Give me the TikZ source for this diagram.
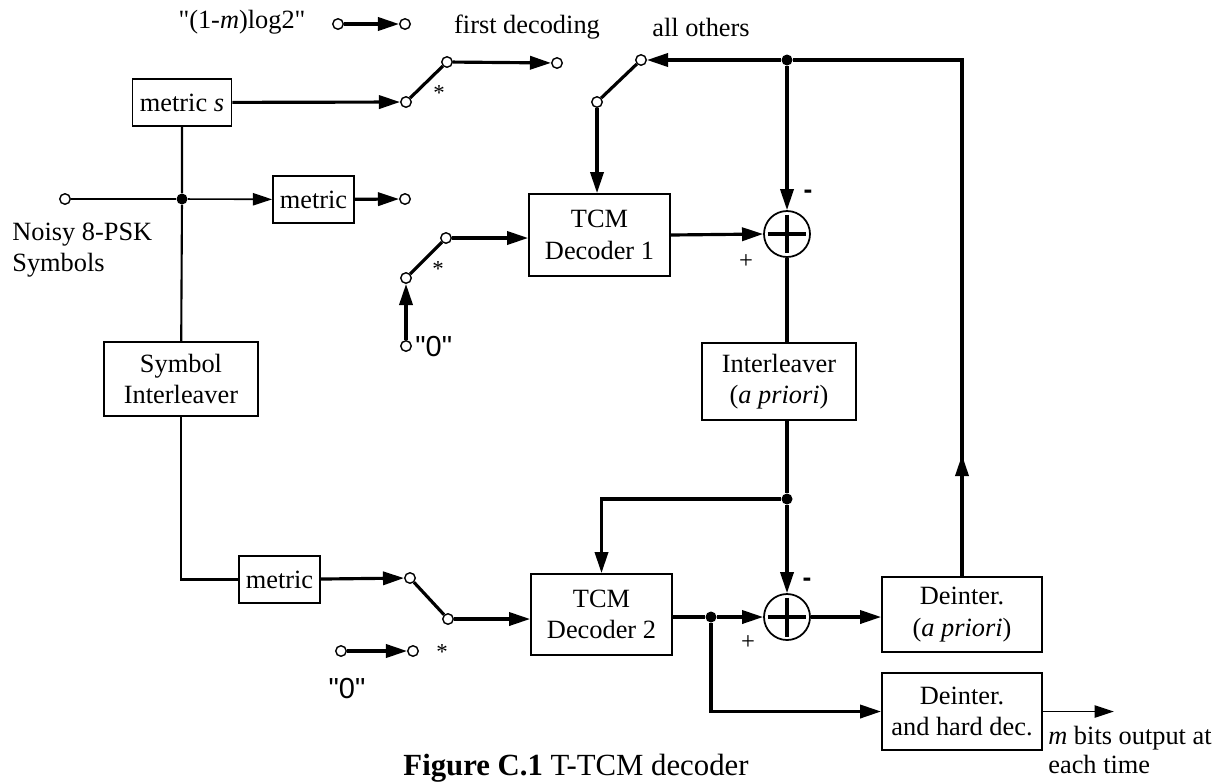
\documentclass[tikz,border=0pt]{standalone}
\usepackage{fontspec}
\setmainfont{Liberation Serif}
\newfontfamily\zerofont{Liberation Sans}
\usetikzlibrary{arrows.meta,positioning}

\begin{document}
\begin{tikzpicture}[
  font=\fontsize{15}{18}\selectfont,
  block/.style={draw,rectangle,line width=1pt,minimum width=1.62cm,
                minimum height=0.94cm,align=center,inner sep=1pt},
  port/.style={draw,circle,line width=0.8pt,fill=white,minimum size=0.21cm,
               inner sep=0pt},
  dot/.style={fill,circle,minimum size=0.22cm,inner sep=0pt},
  adder/.style={draw,circle,line width=1pt,minimum size=0.92cm,inner sep=0pt,
    path picture={
      \draw[line width=2.4pt]
        ([xshift=2pt]path picture bounding box.west) --
        ([xshift=-2pt]path picture bounding box.east)
        ([yshift=-2pt]path picture bounding box.north) --
        ([yshift=2pt]path picture bounding box.south);}},
  wire/.style={line width=1.8pt},
  medwire/.style={line width=1.2pt},
  thinwire/.style={line width=0.9pt},
  arr/.style={wire,-{Triangle[length=12pt,width=7.5pt]}},
  thinarr/.style={thinwire,-{Triangle[length=11pt,width=7pt]}},
  sign/.style={font=\zerofont\bfseries\fontsize{15}{17}\selectfont}
]
\useasboundingbox (0,0) rectangle (24.6,-15.66);
% Metric blocks
\node[block,minimum width=1.98cm] (ms) at (3.64,-2.05) {metric \textit{s}};
\node[block] (mt) at (6.27,-3.99) {metric};
\node[block] (mb) at (5.59,-11.59) {metric};
% Symbol interleaver
\node[block,minimum width=3.08cm,minimum height=1.48cm] (sym) at (3.62,-7.58)
  {Symbol\\Interleaver};
% Decoders
\node[block,minimum width=2.82cm,minimum height=1.64cm] (tcm1) at (11.99,-4.70)
  {TCM\\Decoder 1};
\node[block,minimum width=2.82cm,minimum height=1.62cm] (tcm2) at (12.03,-12.29)
  {TCM\\Decoder 2};
% Adders
\node[adder] (sum1) at (15.74,-4.68) {};
\node[adder] (sum2) at (15.74,-12.34) {};
% Interleaver / deinterleavers
\node[block,minimum width=3.08cm,minimum height=1.54cm] (intl) at (15.58,-7.63)
  {Interleaver\\(\textit{a priori})};
\node[block,minimum width=3.2cm,minimum height=1.5cm] (dap) at (19.24,-12.29)
  {Deinter.\\(\textit{a priori})};
\node[block,minimum width=3.2cm,minimum height=1.54cm] (deh) at (19.24,-14.23)
  {Deinter.\\and hard dec.};
% Switch contacts
\node[port] (lg1) at (6.76,-0.48) {};
\node[port] (lg2) at (8.10,-0.48) {};
\node[port] (s1a) at (8.12,-2.04) {};
\node[port] (s1b) at (8.94,-1.24) {};
\node[port] (fd) at (11.14,-1.26) {};
\node[port] (s2a) at (11.94,-2.04) {};
\node[port] (s2b) at (12.82,-1.20) {};
\node[port] (in) at (1.30,-3.98) {};
\node[port] (mto) at (8.10,-3.98) {};
\node[port] (s3a) at (8.12,-5.56) {};
\node[port] (s3b) at (8.92,-4.76) {};
\node[port] (z1) at (8.12,-6.92) {};
\node[port] (s4a) at (8.20,-11.56) {};
\node[port] (s4b) at (8.96,-12.38) {};
\node[port] (z2a) at (6.82,-13.02) {};
\node[port] (z2b) at (8.26,-13.02) {};
% Junctions
\node[dot] (j0) at (3.64,-3.98) {};
\node[dot] (j1) at (15.74,-1.20) {};
\node[dot] (j2) at (15.74,-9.98) {};
\node[dot] (j3) at (14.22,-12.34) {};
\coordinate (up) at (19.24,-9.1);
% Texts
\node (lgtxt) at (4.84,-0.44) {\textquotedbl(1-\textit{m})log2\textquotedbl};
\node (fdtxt) at (10.54,-0.54) {first decoding};
\node (aotxt) at (14.02,-0.54) {all others};
\node[align=left,anchor=west,inner sep=0pt] (noisy) at (0.24,-5.0)
  {Noisy 8-PSK\\Symbols};
\node[anchor=west,inner sep=0pt,font=\zerofont\fontsize{16.5}{18}\selectfont]
  (z1txt) at (8.30,-6.94) {\textquotedbl0\textquotedbl};
\node[font=\zerofont\fontsize{16.5}{18}\selectfont] (z2txt) at (6.94,-13.76)
  {\textquotedbl0\textquotedbl};
\node[font=\fontsize{13}{15}\selectfont] at (8.78,-1.86) {*};
\node[font=\fontsize{13}{15}\selectfont] at (8.76,-5.38) {*};
\node[font=\fontsize{13}{15}\selectfont] at (8.84,-13.04) {*};
\node[font=\fontsize{14}{16}\selectfont] at (14.92,-5.24) {+};
\node[font=\fontsize{14}{16}\selectfont] at (14.96,-12.86) {+};
\node[sign] at (16.16,-3.88) {-};
\node[sign] at (16.14,-11.64) {-};
\node[align=left,anchor=north west,inner sep=0pt,
      font=\fontsize{15}{16.5}\selectfont] (outtxt) at (20.96,-14.52)
  {\textit{m} bits output at\\each time};
\node[anchor=base,font=\fontsize{17.5}{20}\selectfont] (cap) at (11.52,-15.50)
  {\textbf{Figure C.1} T-TCM decoder};
% Input side
\draw[arr] (lg1) -- (lg2);
\draw[thinwire] (in) -- (j0);
\draw[thinarr] (j0) -- (mt);
\draw[arr] (mt) -- (mto);
\draw[medwire] (ms) -- (j0) -- (sym);
\draw[medwire] (sym.south) |- (mb.west);
% Switches
\draw[arr] (ms) -- (s1a);
\draw[wire] (s1a) -- (s1b);
\draw[arr] (s1b) -- (fd);
\draw[wire] (s2a) -- (s2b);
\draw[arr] (s2a) -- (s2a |- tcm1.north);
\draw[arr] (z1) -- (s3a);
\draw[wire] (s3a) -- (s3b);
\draw[arr] (s3b) -- (s3b -| tcm1.west);
\draw[arr] (mb) -- (s4a);
\draw[wire] (s4a) -- (s4b);
\draw[arr] (s4b) -- (s4b -| tcm2.west);
\draw[arr] (z2a) -- (z2b);
% Decoder 1 loop
\draw[arr] (tcm1.east) -- (sum1.west);
\draw[arr] (j1) -- (s2b);
\draw[arr] (j1) -- (sum1);
\draw[wire] (sum1.south) -- (sum1.south |- intl.north);
\draw[wire] (intl.south -| j2) -- (j2);
% Decoder 2 loop
\draw[arr] (j2) -- (sum2);
\draw[arr] (j2) -| (tcm2.north);
\draw[wire] (tcm2.east |- j3) -- (j3);
\draw[arr] (j3) -- (sum2);
\draw[arr] (sum2.east) -- (sum2.east -| dap.west);
\draw[arr] (j3) |- (deh.west);
\draw[wire] (dap.north) -- (dap.north |- j1) -- (j1);
\draw[arr] (dap.north) -- (up);
% Output
\draw[thinarr] (deh.east) -- ++(1.42,0);
\end{tikzpicture}
\end{document}
